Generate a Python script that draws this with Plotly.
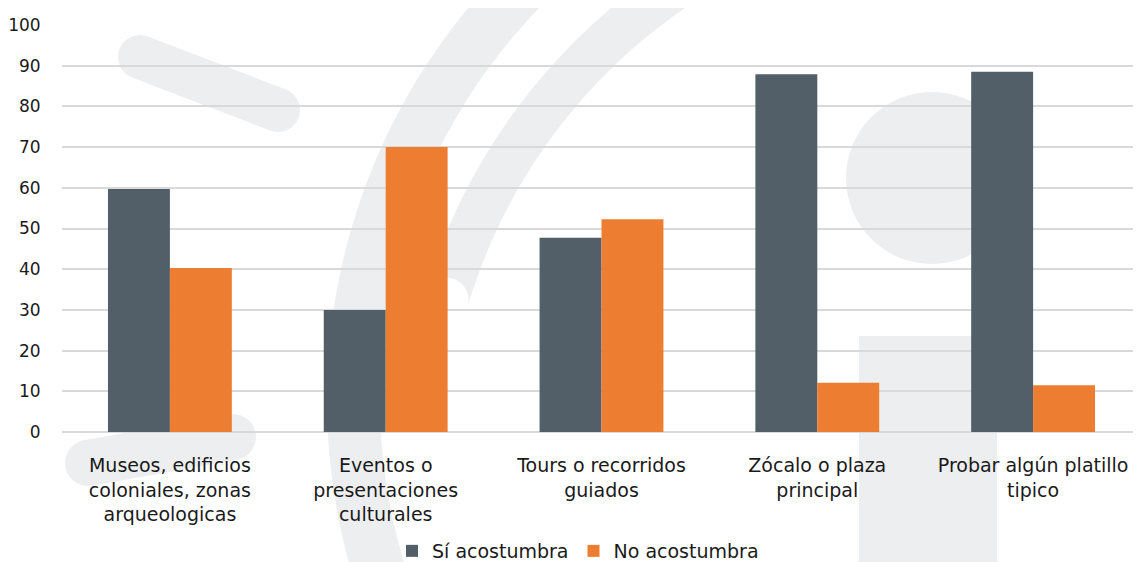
import numpy as np
import plotly.graph_objects as go

categorias = [
    "Museos, edificios<br>coloniales, zonas<br>arqueologicas",
    "Eventos o<br>presentaciones<br>culturales",
    "Tours o recorridos<br>guiados",
    "Zócalo o plaza<br>principal",
    "Probar algún platillo<br>tipico",
]
si_acostumbra = [59.7, 30.0, 47.7, 87.9, 88.5]
no_acostumbra = [40.3, 70.0, 52.3, 12.1, 11.5]

# the page puts the figure 8px in from the top-left corner
OFF = 8
VW, VH = 1141, 562
W, H = VW - OFF, VH - OFF
X0, X1, Y0, Y1 = 62, 1141, 25, 432  # plot area in page pixels
L, R, T, B = X0 - OFF, VW - X1, Y0 - OFF, VH - Y1
PW, PH = X1 - X0, Y1 - Y0
GRIS = "#EDEEEF"


def px(x, y):
    # page pixel -> paper coords
    return (x - X0) / PW, (Y1 - y) / PH


def path_from(points):
    pts = [px(x, y) for x, y in points]
    s = "M %.5f,%.5f " % pts[0]
    for p in pts[1:]:
        s += "L %.5f,%.5f " % p
    return s + "Z"


def pill(x0, y0, x1, y1, r):
    a = np.arctan2(y1 - y0, x1 - x0)
    pts = []
    for t in np.linspace(a + np.pi / 2, a + 3 * np.pi / 2, 20):
        pts.append((x0 + r * np.cos(t), y0 + r * np.sin(t)))
    for t in np.linspace(a - np.pi / 2, a + np.pi / 2, 20):
        pts.append((x1 + r * np.cos(t), y1 + r * np.sin(t)))
    return path_from(pts)


def band(cx, cy, r_in, r_out, a0, a1, cap_end=False):
    outer = [(cx + r_out * np.cos(t), cy + r_out * np.sin(t)) for t in np.linspace(a0, a1, 60)]
    inner = [(cx + r_in * np.cos(t), cy + r_in * np.sin(t)) for t in np.linspace(a1, a0, 60)]
    pts = outer
    if cap_end:
        rc = (r_out - r_in) / 2
        rm = (r_out + r_in) / 2
        ex, ey = cx + rm * np.cos(a1), cy + rm * np.sin(a1)
        for t in np.linspace(a1, a1 + np.pi, 20):
            pts.append((ex + rc * np.cos(t), ey + rc * np.sin(t)))
    return path_from(pts + inner)


shapes = []
# marca de agua
shapes.append(dict(type="path", path=pill(140, 57, 278, 110, 22)))
shapes.append(dict(type="path", path=pill(88, 463, 233, 437, 23)))
shapes.append(dict(type="path", path=band(942, 400, 562, 615, np.radians(-130), np.radians(-200))))
shapes.append(dict(type="path", path=band(996, 463, 551, 596, np.radians(-118), np.radians(-163.5), cap_end=True)))
cx0, cy0 = px(932 - 86, 178 - 86)
cx1, cy1 = px(932 + 86, 178 + 86)
shapes.append(dict(type="circle", x0=cx0, y0=cy1, x1=cx1, y1=cy0))
rx0, ry0 = px(859, 336)
rx1, ry1 = px(997, 600)
shapes.append(dict(type="rect", x0=rx0, y0=ry1, x1=rx1, y1=ry0))
for s in shapes:
    s.update(xref="paper", yref="paper", fillcolor=GRIS, line=dict(width=0), layer="below")

fig = go.Figure()
fig.add_trace(go.Bar(x=categorias, y=si_acostumbra, name="Sí acostumbra",
                     marker=dict(color="#525F68", line=dict(width=0))))
fig.add_trace(go.Bar(x=categorias, y=no_acostumbra, name="No acostumbra",
                     marker=dict(color="#ED7D31", line=dict(width=0))))

fig.update_layout(
    width=W, height=H,
    margin=dict(l=L, r=R, t=T, b=B, autoexpand=False),
    paper_bgcolor="white",
    plot_bgcolor="rgba(0,0,0,0)",
    barmode="group",
    bargap=0.426,
    bargroupgap=0,
    font=dict(family="DejaVu Sans", size=17, color="#1a1a1a"),
    shapes=shapes,
    legend=dict(orientation="h", x=px(578, 0)[0], xanchor="center",
                y=px(0, 551)[1], yanchor="middle",
                font=dict(size=19), traceorder="normal", bgcolor="rgba(0,0,0,0)"),
    yaxis=dict(range=[0, 100], dtick=10, showgrid=True, gridcolor="#D9D9D9", gridwidth=2,
               zeroline=True, zerolinecolor="#D9D9D9", zerolinewidth=2,
               ticks="outside", ticklen=17, tickcolor="rgba(0,0,0,0)", showline=False,
               automargin=False),
    xaxis=dict(showgrid=False, showline=False, ticks="outside", ticklen=16,
               tickcolor="rgba(0,0,0,0)", tickfont=dict(size=19), automargin=False),
)

fig.write_html("out.html")
